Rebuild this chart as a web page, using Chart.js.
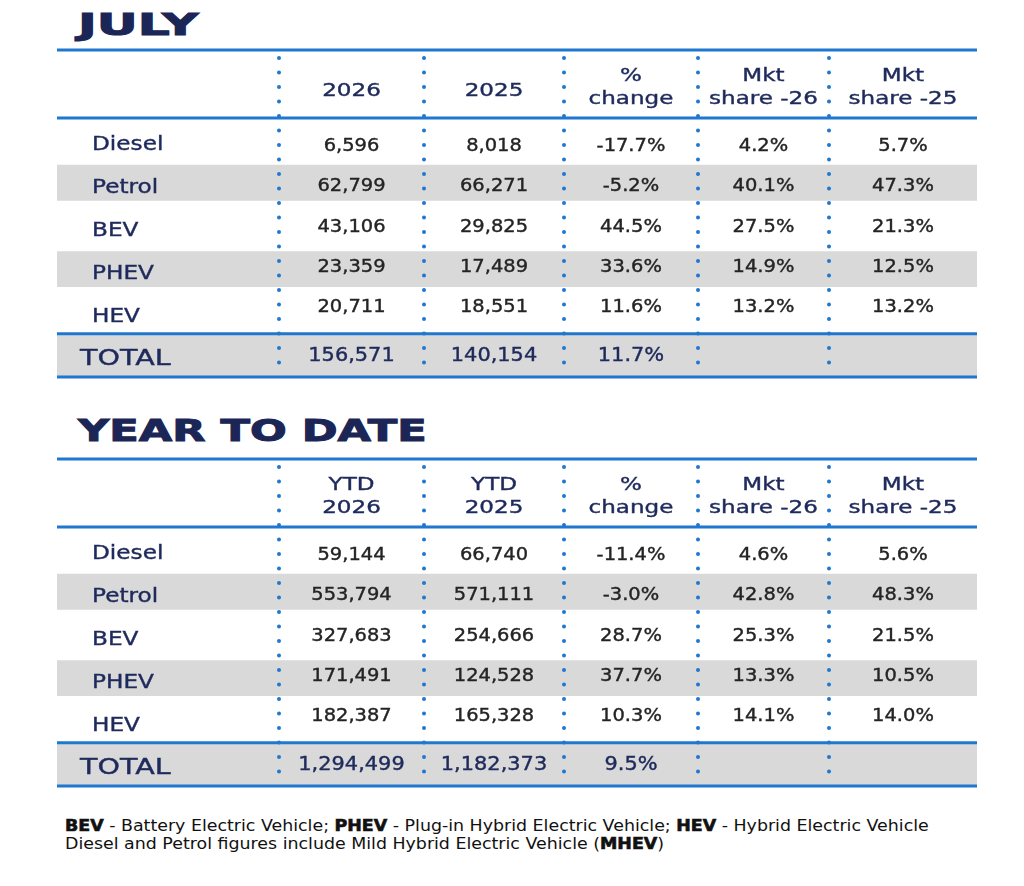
<!DOCTYPE html>
<html>
<head>
<meta charset="utf-8">
<title>New car registrations by fuel type</title>
<script src="https://cdn.jsdelivr.net/npm/chart.js@4.4.1/dist/chart.umd.min.js"></script>
<style>
  body { margin: 0; background: #fff; width: 1024px; height: 886px; position: relative; overflow: hidden; }
  .title { position: absolute; left: 78px; margin: 0; font: bold 30px/30px "DejaVu Sans", sans-serif;
           color: #1c2656; -webkit-text-stroke: 1px #1c2656; transform-origin: 0 0; white-space: nowrap; }
  canvas { position: absolute; left: 0; }
  .note { position: absolute; left: 65px; top: 817px; font: 15px/18px "DejaVu Sans", sans-serif; color: #111;
          white-space: nowrap; transform: scaleX(1.16); transform-origin: 0 0; }
  .note b { -webkit-text-stroke: 0.6px #111; }
</style>
</head>
<body>
<h1 class="title" style="top:10px; transform:scaleX(1.68)">JULY</h1>
<canvas id="july-table" width="1024" height="400" style="top:0"></canvas>
<h1 class="title" style="top:416px; transform:scaleX(1.44)">YEAR TO DATE</h1>
<canvas id="ytd-table" width="1024" height="400" style="top:409px"></canvas>
<div class="note">
  <b>BEV</b> - Battery Electric Vehicle; <b>PHEV</b> - Plug-in Hybrid Electric Vehicle; <b>HEV</b> - Hybrid Electric Vehicle<br>
  Diesel and Petrol figures include Mild Hybrid Electric Vehicle (<b>MHEV</b>)
</div>
<script>
//Row names and column headings
var rowLabels = ['Diesel', 'Petrol', 'BEV', 'PHEV', 'HEV', 'TOTAL'];
var julyHeaders = [['2026'], ['2025'], ['%', 'change'], ['Mkt', 'share -26'], ['Mkt', 'share -25']];
var ytdHeaders = [['YTD', '2026'], ['YTD', '2025'], ['%', 'change'], ['Mkt', 'share -26'], ['Mkt', 'share -25']];

//July figures
var july2026 = [6596, 62799, 43106, 23359, 20711, 156571];
var july2025 = [8018, 66271, 29825, 17489, 18551, 140154];
var julyChange = [-17.7, -5.2, 44.5, 33.6, 11.6, 11.7];
var julyShare26 = [4.2, 40.1, 27.5, 14.9, 13.2, null];
var julyShare25 = [5.7, 47.3, 21.3, 12.5, 13.2, null];

//Year to date figures
var ytd2026 = [59144, 553794, 327683, 171491, 182387, 1294499];
var ytd2025 = [66740, 571111, 254666, 124528, 165328, 1182373];
var ytdChange = [-11.4, -3.0, 28.7, 37.7, 10.3, 9.5];
var ytdShare26 = [4.6, 42.8, 25.3, 13.3, 14.1, null];
var ytdShare25 = [5.6, 48.3, 21.5, 10.5, 14.0, null];

//Layout: column edges in table units (label column is wider)
var colEdges = [0, 222, 367, 507, 641, 772, 920];
var HEADER_H = 68;
var BLUE = '#1f77d0';
var NAVY = '#1f2a5c';
var INK = '#242424';
var GREY = '#d9d9d9';
var FONT = '"DejaVu Sans", sans-serif';

function fmtInt(v) { return v == null ? '' : v.toLocaleString('en-US'); }
function fmtPct(v) { return v == null ? '' : v.toFixed(1) + '%'; }

/*******************************
* Draws a string stretched horizontally
* (the source typeface is much wider than DejaVu)
*******************************/
function wideText(ctx, str, x, y, size, color, sx, align) {
  ctx.save();
  ctx.font = size + 'px ' + FONT;
  ctx.fillStyle = color;
  ctx.strokeStyle = color;
  ctx.lineWidth = 0.4;
  ctx.textAlign = align;
  ctx.textBaseline = 'middle';
  ctx.translate(x, y);
  ctx.scale(sx, 1);
  ctx.fillText(str, 0, 0);
  ctx.strokeText(str, 0, 0);
  ctx.restore();
}

/*******************************
* Plugin: rules, dotted separators, header and cell texts
*******************************/
function tablePlugin(headers, columns) {
  return {
    id: 'tableCells',
    afterDatasetsDraw: function (chart) {
      var ctx = chart.ctx, area = chart.chartArea;
      var xs = chart.scales.x, ys = chart.scales.y;
      var top = area.top - HEADER_H;
      var lastRow = rowLabels.length - 1;

      //dotted column separators
      ctx.save();
      ctx.strokeStyle = BLUE;
      ctx.lineWidth = 4;
      ctx.lineCap = 'round';
      ctx.setLineDash([0, 14.5]);
      for (var c = 1; c < colEdges.length - 1; c++) {
        var px = Math.round(xs.getPixelForValue(colEdges[c]));
        ctx.beginPath();
        ctx.moveTo(px, top + 8);
        ctx.lineTo(px, area.bottom);
        ctx.stroke();
      }
      ctx.restore();

      //blue horizontal rules
      var rules = [top, area.top, ys.getPixelForValue(lastRow - 0.5), area.bottom];
      ctx.save();
      ctx.strokeStyle = BLUE;
      ctx.lineWidth = 3;
      rules.forEach(function (ry) {
        ctx.beginPath();
        ctx.moveTo(area.left, ry);
        ctx.lineTo(area.right, ry);
        ctx.stroke();
      });
      ctx.restore();

      //header texts
      headers.forEach(function (lines, k) {
        var cx = xs.getPixelForValue((colEdges[k + 1] + colEdges[k + 2]) / 2);
        if (lines.length === 1) {
          wideText(ctx, lines[0], cx, top + 41, 18, NAVY, 1.28, 'center');
        } else {
          wideText(ctx, lines[0], cx, top + 26, 18, NAVY, 1.28, 'center');
          wideText(ctx, lines[1], cx, top + 49, 18, NAVY, 1.28, 'center');
        }
      });

      //row labels and cells (figures sit a little tighter than the row pitch)
      rowLabels.forEach(function (label, i) {
        var cy = ys.getPixelForValue(i);
        var isTotal = i === lastRow;
        if (isTotal) {
          wideText(ctx, label, area.left + 23, cy + 4, 21, NAVY, 1.36, 'left');
        } else {
          wideText(ctx, label, area.left + 35, cy + 5, 19, NAVY, 1.22, 'left');
        }
        columns.forEach(function (col, k) {
          var cx = xs.getPixelForValue((colEdges[k + 1] + colEdges[k + 2]) / 2);
          var str = col.fmt(col.values[i]);
          if (isTotal) {
            wideText(ctx, str, cx, cy + 1, 19, NAVY, 1.1, 'center');
          } else {
            wideText(ctx, str, cx, cy + 1 + (2 - i) * 3, 18, INK, 1.08, 'center');
          }
        });
      });
    }
  };
}

/*******************************
* Builds one table chart: grey cells are floating bars
*******************************/
function makeTable(canvasId, headers, columns) {
  var full = [colEdges[0], colEdges[colEdges.length - 1]];
  var lastRow = rowLabels.length - 1;
  var stripes = rowLabels.map(function (r, i) { return (i < lastRow && i % 2 === 1) ? full : null; });
  var totals = rowLabels.map(function (r, i) { return i === lastRow ? full : null; });

  return new Chart(document.getElementById(canvasId), {
    type: 'bar',
    data: {
      labels: rowLabels,
      datasets: [
        { data: stripes, backgroundColor: GREY, grouped: false, barPercentage: 0.83, categoryPercentage: 1 },
        { data: totals, backgroundColor: GREY, grouped: false, barPercentage: 1, categoryPercentage: 1 }
      ]
    },
    options: {
      indexAxis: 'y',
      responsive: false,
      animation: false,
      events: [],
      layout: { padding: { left: 57, right: 47, top: 118, bottom: 23 } },
      scales: {
        x: { type: 'linear', display: false, min: colEdges[0], max: colEdges[colEdges.length - 1] },
        y: { type: 'category', display: false, offset: true }
      },
      plugins: { legend: { display: false }, tooltip: { enabled: false } }
    },
    plugins: [tablePlugin(headers, columns)]
  });
}

makeTable('july-table', julyHeaders, [
  { values: july2026, fmt: fmtInt },
  { values: july2025, fmt: fmtInt },
  { values: julyChange, fmt: fmtPct },
  { values: julyShare26, fmt: fmtPct },
  { values: julyShare25, fmt: fmtPct }
]);

makeTable('ytd-table', ytdHeaders, [
  { values: ytd2026, fmt: fmtInt },
  { values: ytd2025, fmt: fmtInt },
  { values: ytdChange, fmt: fmtPct },
  { values: ytdShare26, fmt: fmtPct },
  { values: ytdShare25, fmt: fmtPct }
]);
</script>
</body>
</html>
